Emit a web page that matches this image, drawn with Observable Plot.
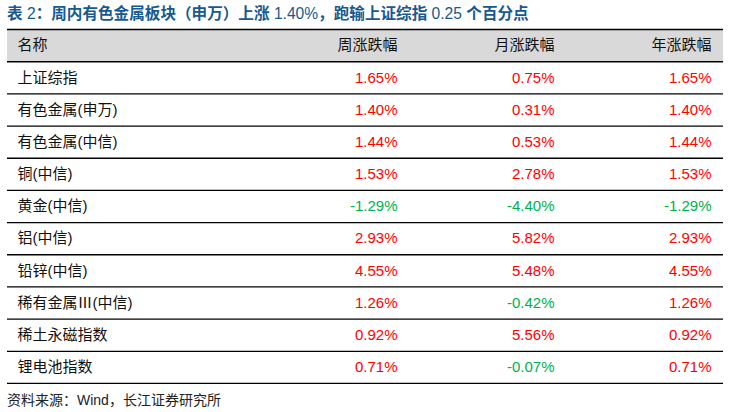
<!DOCTYPE html>
<html><head><meta charset="utf-8">
<script src="https://cdn.jsdelivr.net/npm/d3@7"></script>
<script src="https://cdn.jsdelivr.net/npm/@observablehq/plot@0.6"></script>
<style>
body{margin:0;background:#fff;font-family:"Liberation Sans","Noto Sans CJK SC",sans-serif;}
#title{height:28px;line-height:28px;padding-left:7px;font-size:15.6px;font-weight:bold;color:#165a8f;white-space:nowrap;}
#title span{font-weight:normal;}
#foot{height:32px;line-height:32px;padding-left:7px;font-size:14px;color:#222;white-space:nowrap;}
</style></head>
<body>
<div id="title"></div>
<div id="chart"></div>
<div id="foot">资料来源：Wind，长江证券研究所</div>
<script>
const titleText = "表 2：周内有色金属板块（申万）上涨 1.40%，跑输上证综指 0.25 个百分点";
const columns = ["名称", "周涨跌幅", "月涨跌幅", "年涨跌幅"];
const names = ["上证综指", "有色金属(申万)", "有色金属(中信)", "铜(中信)", "黄金(中信)", "铝(中信)", "铅锌(中信)", "稀有金属Ⅲ(中信)", "稀土永磁指数", "锂电池指数"];
const weekly = [1.65, 1.40, 1.44, 1.53, -1.29, 2.93, 4.55, 1.26, 0.92, 0.71];
const monthly = [0.75, 0.31, 0.53, 2.78, -4.40, 5.82, 5.48, -0.42, 5.56, -0.07];
const yearly = [1.65, 1.40, 1.44, 1.53, -1.29, 2.93, 4.55, 1.26, 0.92, 0.71];

// title: CJK bold, Latin/digits regular
const titleEl = document.getElementById("title");
titleText.split(/([ 0-9.%]+)/).forEach((part, i) => {
  if (!part) return;
  if (i % 2 === 1) { const s = document.createElement("span"); s.textContent = part; titleEl.appendChild(s); }
  else titleEl.appendChild(document.createTextNode(part));
});

const RED = "#ff0000", GREEN = "#00b050";
const header = columns.map((c, i) => ({col: c, row: 0, text: c, anchor: i === 0 ? "start" : "end", fill: "#111"}));
const nameCells = names.map((n, i) => ({col: columns[0], row: i + 1, text: n, fill: "#111"}));
const valueCells = [];
[weekly, monthly, yearly].forEach((arr, j) => arr.forEach((v, i) => valueCells.push({
  col: columns[j + 1], row: i + 1, text: v.toFixed(2) + "%", fill: v < 0 ? GREEN : RED
})));
const bounds = d3.range(0, names.length + 2);

const plot = Plot.plot({
  width: 740, height: 356,
  marginLeft: 7, marginRight: 17, marginTop: 1, marginBottom: 1,
  x: {type: "ordinal", domain: columns, range: [17, 397, 554, 711], axis: null},
  y: {domain: [0, names.length + 1], range: [1, 355], axis: null},
  color: {type: "identity"},
  style: {fontFamily: '"Liberation Sans","Noto Sans CJK SC",sans-serif', fontSize: "15px", background: "transparent"},
  marks: [
    Plot.rect([0], {y1: 0, y2: 1, fill: "#d9d9d9"}),
    Plot.ruleY(bounds, {stroke: "#000", strokeWidth: d => (d <= 1 ? 1.6 : 1.3)}),
    Plot.text(header.filter(d => d.anchor === "start"), {x: "col", y: d => d.row + 0.5, text: "text", textAnchor: "start", fill: "fill"}),
    Plot.text(header.filter(d => d.anchor === "end"), {x: "col", y: d => d.row + 0.5, text: "text", textAnchor: "end", fill: "fill"}),
    Plot.text(nameCells, {x: "col", y: d => d.row + 0.5, text: "text", textAnchor: "start", fill: "fill"}),
    Plot.text(valueCells, {x: "col", y: d => d.row + 0.5, text: "text", textAnchor: "end", fill: "fill"})
  ]
});
document.getElementById("chart").appendChild(plot);
</script>
</body></html>
